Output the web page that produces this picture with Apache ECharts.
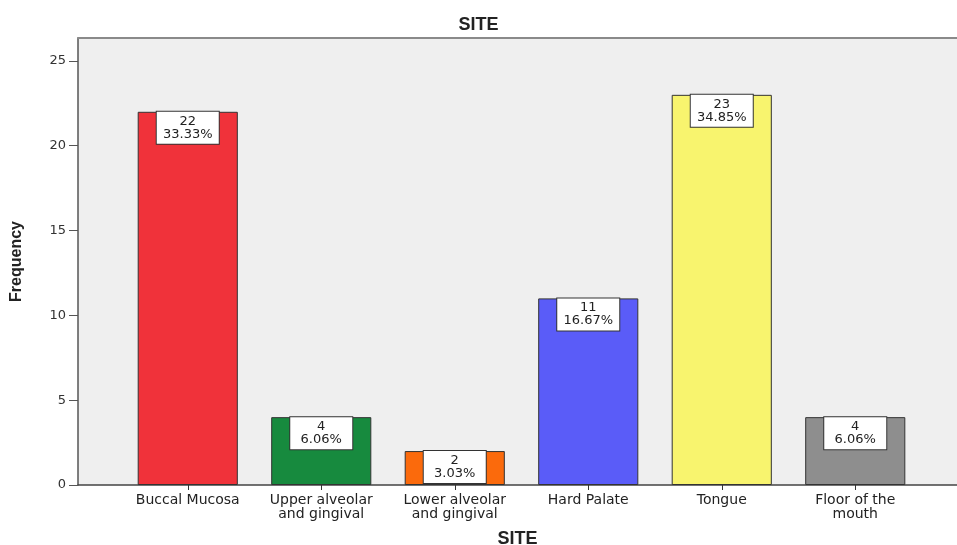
<!DOCTYPE html>
<html>
<head>
<meta charset="utf-8">
<script src="https://cdn.jsdelivr.net/npm/echarts@6/dist/echarts.min.js"></script>
<style>
  html, body { margin: 0; padding: 0; background: #fff; }
  #chart { width: 957px; height: 545px; }
</style>
</head>
<body>
<div id="chart"></div>
<script>
// Sites of lesions and how often each occurs
const categories = [
  'Buccal Mucosa',
  'Upper alveolar\nand gingival',
  'Lower alveolar\nand gingival',
  'Hard Palate',
  'Tongue',
  'Floor of the\nmouth'
];
const frequencies = [22, 4, 2, 11, 23, 4];
const barColors = ['#f0323a', '#178a3e', '#fb6a0c', '#5a5cf8', '#f8f46e', '#8e8e8e'];
const yTicks = [0, 5, 10, 15, 20, 25];
const yMax = 26.35;

const total = frequencies.reduce((a, b) => a + b, 0);
const FONT = 'DejaVu Sans, Arial, sans-serif';
const BOLD_FONT = 'Liberation Sans, Arial, sans-serif';

const chart = echarts.init(document.getElementById('chart'));
chart.setOption({
  backgroundColor: '#ffffff',
  animation: false,
  title: {
    text: 'SITE',
    left: 'center',
    top: 11,
    textStyle: { fontFamily: BOLD_FONT, fontWeight: 'bold', fontSize: 18, color: '#222' }
  },
  grid: [
    { left: 78, right: 0, top: 38, bottom: 60, show: true, backgroundColor: '#efefef', borderWidth: 0, outerBoundsMode: 'none', containLabel: false },
    { left: 121, right: 35, top: 38, bottom: 60, outerBoundsMode: 'none', containLabel: false }
  ],
  xAxis: [
    {
      gridIndex: 0, type: 'category', data: [''], position: 'bottom',
      axisLine: { show: true, lineStyle: { color: '#444', width: 1.5 } },
      axisTick: { show: false }, axisLabel: { show: false },
      name: 'SITE', nameLocation: 'middle', nameGap: 45,
      nameTextStyle: { fontFamily: BOLD_FONT, fontWeight: 'bold', fontSize: 18, color: '#222' }
    },
    {
      gridIndex: 0, type: 'category', data: [''], position: 'top',
      axisLine: { show: true, lineStyle: { color: '#8a8a8a', width: 2 } },
      axisTick: { show: false }, axisLabel: { show: false }
    },
    {
      gridIndex: 1, type: 'category', data: categories,
      axisLine: { show: false },
      axisTick: { show: true, alignWithLabel: true, length: 5, lineStyle: { color: '#333' } },
      axisLabel: { fontFamily: FONT, fontSize: 14, color: '#222', lineHeight: 13.5, margin: 9, interval: 0 }
    }
  ],
  yAxis: [
    {
      gridIndex: 0, type: 'value', min: 0, max: yMax,
      axisLine: { show: true, lineStyle: { color: '#555', width: 1.5 } },
      axisTick: { show: true, length: 9, customValues: yTicks, lineStyle: { color: '#555' } },
      axisLabel: { customValues: yTicks, fontFamily: FONT, fontSize: 13, color: '#333', margin: 12 },
      splitLine: { show: false },
      name: 'Frequency', nameLocation: 'middle', nameRotate: 90, nameGap: 53,
      nameTextStyle: { fontFamily: BOLD_FONT, fontWeight: 'bold', fontSize: 16, color: '#222' }
    },
    { gridIndex: 1, type: 'value', min: 0, max: yMax, show: false }
  ],
  series: [{
    type: 'bar',
    xAxisIndex: 2,
    yAxisIndex: 1,
    barCategoryGap: '25%',
    data: frequencies.map((v, i) => ({
      value: v,
      itemStyle: { color: barColors[i], borderColor: '#333', borderWidth: 1 }
    })),
    label: {
      show: true,
      position: 'insideTop',
      distance: 0,
      formatter: p => p.value + '\n' + (p.value / total * 100).toFixed(2) + '%',
      fontFamily: FONT,
      fontSize: 13,
      lineHeight: 13,
      color: '#222',
      backgroundColor: '#ffffff',
      borderColor: '#333',
      borderWidth: 1,
      padding: [3, 3, 3, 3],
      width: 56,
      align: 'center'
    }
  }]
});
</script>
</body>
</html>
